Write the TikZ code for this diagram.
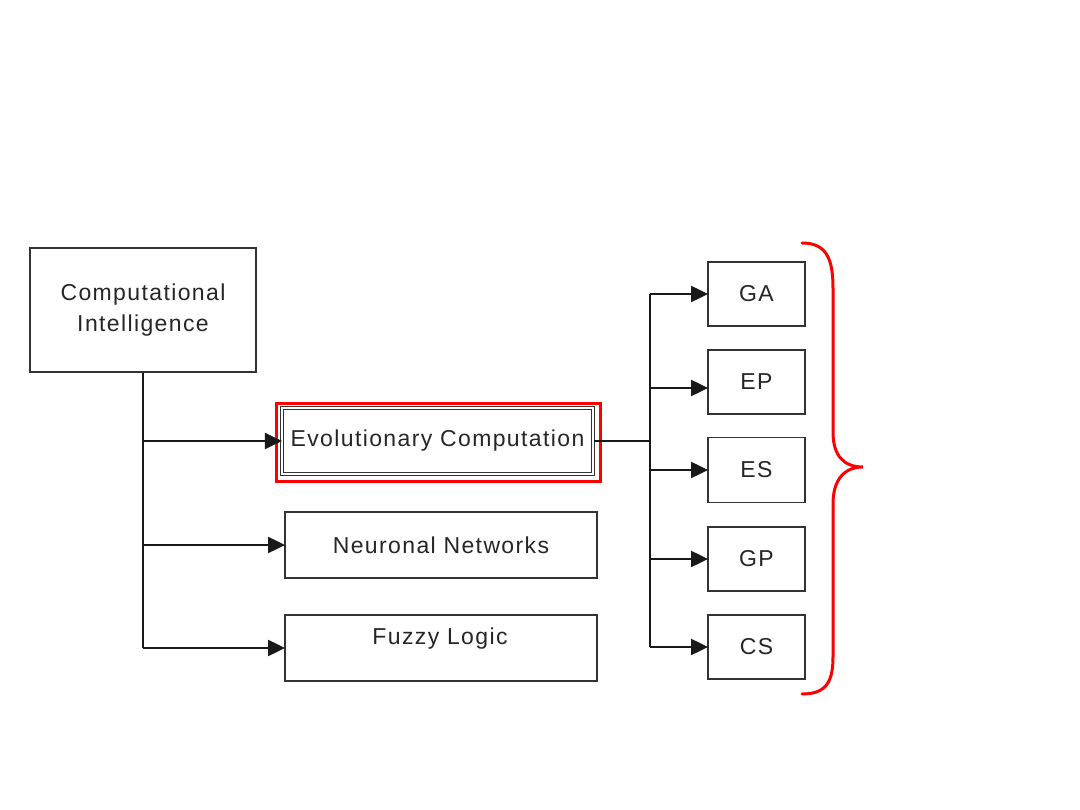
\documentclass[tikz,border=0pt]{standalone}
\usepackage{fontspec}
\setmainfont[LetterSpace=6]{Liberation Sans}
\usetikzlibrary{arrows.meta}
\begin{document}
\begin{tikzpicture}[x=1pt,y=-1pt,
  box/.style={draw=black!80, line width=1.8pt, rectangle, inner sep=0pt, font=\fontsize{23}{31}\selectfont, text=black!85, align=center},
  conn/.style={draw=black!90, line width=2pt},
  arr/.style={conn, -{Triangle[length=17pt,width=16pt]}, shorten >=-1pt},
  redbox/.style={draw=red, line width=3pt, rectangle, inner sep=0pt}]
\useasboundingbox (0,0) rectangle (1080,810);
\fill[white] (0,0) rectangle (1080,810);

\node[box, minimum width=226pt, minimum height=124pt] (ci) at (143,310) {Computational\\Intelligence};
\node[redbox, minimum width=324pt, minimum height=77pt] (ecred) at (438,442.5) {};
\node[box, double, double distance=1.3pt, line width=1.1pt, minimum width=311pt, minimum height=66pt] (ec) at (437.5,441) {Evolutionary Computation};
\node[box, minimum width=312pt, minimum height=66pt] (nn) at (441,545) {Neuronal Networks};
\node[box, minimum width=312pt, minimum height=66pt] (fl) at (441,648) {};
\node[font=\fontsize{23}{31}\selectfont, text=black!85, inner sep=0pt] (fltext) at (440,639) {Fuzzy Logic};

\node[box, minimum width=97pt, minimum height=64pt] (ga) at (756.5,294) {GA};
\node[box, minimum width=97pt, minimum height=64pt] (ep) at (756.5,382) {EP};
\node[box, minimum width=97pt, minimum height=65pt] (es) at (756.5,470) {ES};
\node[box, minimum width=97pt, minimum height=64pt] (gp) at (756.5,559) {GP};
\node[box, minimum width=97pt, minimum height=64pt] (cs) at (756.5,647) {CS};

% left tree
\draw[conn] (ci.south) -- (ci.south |- fl.west);
\draw[arr] (ci.south |- ec.west) -- ([xshift=-0.5pt]ec.west);
\draw[arr] (ci.south |- nn.west) -- (nn.west);
\draw[arr] (ci.south |- fl.west) -- (fl.west);

% right tree
\coordinate (j) at (650,441);
\draw[conn] ([xshift=0.5pt]ec.east) -- (j);
\draw[conn] (j |- ga.west) -- (j |- cs.west);
\draw[arr] (j |- ga.west) -- (ga.west);
\draw[arr] (j |- 0,388) -- (ep.west |- 0,388);
\draw[arr] (j |- es.west) -- (es.west);
\draw[arr] (j |- gp.west) -- (gp.west);
\draw[arr] (j |- cs.west) -- (cs.west);

% brace
\draw[red, line width=3pt, line cap=round]
  (802,243) .. controls (826,243) and (833,258) .. (833,288)
  -- (833,432) .. controls (833,456) and (844,467) .. (863,467)
  .. controls (844,467) and (833,480) .. (833,504)
  -- (833,657) .. controls (833,682) and (826,694) .. (802,694);
\end{tikzpicture}
\end{document}
